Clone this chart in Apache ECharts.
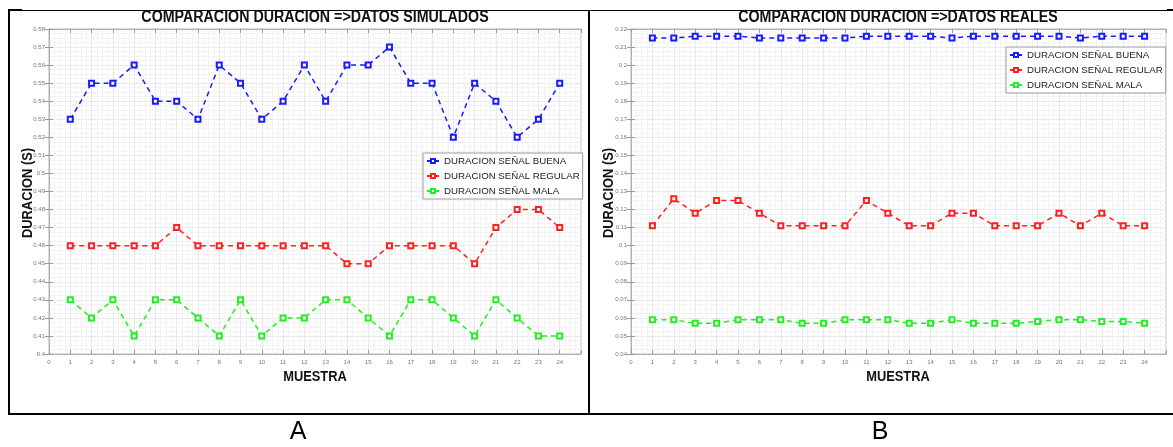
<!DOCTYPE html>
<html>
<head>
<meta charset="utf-8">
<script src="https://cdn.jsdelivr.net/npm/echarts@6/dist/echarts.min.js"></script>
<style>
html,body{margin:0;padding:0;background:#fff;}
#c{width:1173px;height:447px;}
</style>
</head>
<body>
<div id="c"></div>
<script>
// ---- data ----
const muestras = [1,2,3,4,5,6,7,8,9,10,11,12,13,14,15,16,17,18,19,20,21,22,23,24];
const seriesNames = ['DURACION SEÑAL BUENA','DURACION SEÑAL REGULAR','DURACION SEÑAL MALA'];
const titleA = 'COMPARACION DURACION =>DATOS SIMULADOS';
const titleB = 'COMPARACION DURACION =>DATOS REALES';
const yNombre = 'DURACION (S)';
const xNombre = 'MUESTRA';
const panelLabels = ['A','B'];
// Simulated
const simBuena   = [0.53,0.55,0.55,0.56,0.54,0.54,0.53,0.56,0.55,0.53,0.54,0.56,0.54,0.56,0.56,0.57,0.55,0.55,0.52,0.55,0.54,0.52,0.53,0.55];
const simRegular = [0.46,0.46,0.46,0.46,0.46,0.47,0.46,0.46,0.46,0.46,0.46,0.46,0.46,0.45,0.45,0.46,0.46,0.46,0.46,0.45,0.47,0.48,0.48,0.47];
const simMala    = [0.43,0.42,0.43,0.41,0.43,0.43,0.42,0.41,0.43,0.41,0.42,0.42,0.43,0.43,0.42,0.41,0.43,0.43,0.42,0.41,0.43,0.42,0.41,0.41];
// Real
const realBuena   = [0.215,0.215,0.216,0.216,0.216,0.215,0.215,0.215,0.215,0.215,0.216,0.216,0.216,0.216,0.215,0.216,0.216,0.216,0.216,0.216,0.215,0.216,0.216,0.216];
const realRegular = [0.111,0.126,0.118,0.125,0.125,0.118,0.111,0.111,0.111,0.111,0.125,0.118,0.111,0.111,0.118,0.118,0.111,0.111,0.111,0.118,0.111,0.118,0.111,0.111];
const realMala    = [0.059,0.059,0.057,0.057,0.059,0.059,0.059,0.057,0.057,0.059,0.059,0.059,0.057,0.057,0.059,0.057,0.057,0.057,0.058,0.059,0.059,0.058,0.058,0.057];
// axis ranges
const xMin = 0, xMax = 25, xStep = 1;
const yA = {min:0.40, max:0.58, step:0.01};
const yB = {min:0.04, max:0.22, step:0.01};

const colors = ['#1a1aff','#ff2020','#22ee22'];
const ARIAL = '"Liberation Sans",Arial,sans-serif';

const chart = echarts.init(document.getElementById('c'), null, {renderer:'canvas'});

const grids = [
  {left:49, top:29, width:532, height:325, show:true, borderColor:'#b5b5b5', borderWidth:1, backgroundColor:'#fff'},
  {left:631, top:29, width:535, height:325, show:true, borderColor:'#b5b5b5', borderWidth:1, backgroundColor:'#fff'}
];

function xAx(gi, top){
  return {
    type:'value', gridIndex:gi, min:xMin, max:xMax, interval:xStep,
    position: top ? 'top' : 'bottom',
    axisLine:{show:true, lineStyle:{color:'#b0b0b0', width:1}},
    axisTick:{show:true, inside:true, length:4, lineStyle:{color:'#9a9a9a'}},
    axisLabel:{show:!top, fontSize:6, color:'#777', fontFamily:ARIAL, margin:5,
      formatter:v => (v >= xMax ? '' : String(v))},
    splitLine:{show:!top, lineStyle:{color:'#e8e8e8', width:1}},
    minorTick:{show:false, splitNumber:4},
    minorSplitLine:{show:!top, lineStyle:{color:'#f3f3f3', width:1}}
  };
}
function yAx(gi, r, right){
  return {
    type:'value', gridIndex:gi, min:r.min, max:r.max, interval:r.step,
    position: right ? 'right' : 'left',
    axisLine:{show:true, lineStyle:{color:'#b0b0b0', width:1}},
    axisTick:{show:true, inside:true, length:4, lineStyle:{color:'#9a9a9a'}},
    axisLabel:{show:!right, fontSize:6, color:'#777', fontFamily:ARIAL, margin:4,
      formatter:v => String(+v.toFixed(3))},
    splitLine:{show:!right, lineStyle:{color:'#e8e8e8', width:1}},
    minorTick:{show:false, splitNumber:4},
    minorSplitLine:{show:!right, lineStyle:{color:'#f3f3f3', width:1}}
  };
}

function mkSeries(name, vals, ci, axisIdx){
  return {
    type:'line', name:name, xAxisIndex:axisIdx, yAxisIndex:axisIdx,
    data: muestras.map((m,i)=>[m, vals[i]]),
    symbol:'emptyRect', symbolSize:5, showSymbol:true,
    lineStyle:{color:colors[ci], width:1.5, type:[5,4]},
    itemStyle:{color:colors[ci], borderColor:colors[ci], borderWidth:1.5},
    emphasis:{disabled:true}, animation:false, z:3
  };
}

const legendCommon = {
  orient:'vertical', itemWidth:12, itemHeight:5, itemGap:3,
  padding:[2,3,2,3], borderColor:'#999', borderWidth:1, backgroundColor:'#fff',
  textStyle:{fontFamily:ARIAL, fontSize:9.7, color:'#222', lineHeight:12},
  data:seriesNames, selectedMode:false
};

function txt(s, x, y, font, rot, sx){
  return {type:'text', x:x, y:y, rotation:rot||0, scaleX:sx||1, silent:true, z:10,
    style:{text:s, font:font, fill:'#111', align:'center', verticalAlign:'middle'}};
}
const TFONT = 'bold 16px "Liberation Sans",Arial,sans-serif';
const NFONT = 'bold 14px "Liberation Sans",Arial,sans-serif';

const option = {
  animation:false,
  backgroundColor:'#fff',
  grid:grids,
  xAxis:[xAx(0,false), xAx(0,true), xAx(1,false), xAx(1,true)],
  yAxis:[yAx(0,yA,false), yAx(0,yA,true), yAx(1,yB,false), yAx(1,yB,true)],
  legend:[
    Object.assign({}, legendCommon, {left:423, top:153}),
    Object.assign({}, legendCommon, {left:1006, top:47})
  ],
  series:[
    mkSeries(seriesNames[0], simBuena, 0, 0),
    mkSeries(seriesNames[1], simRegular, 1, 0),
    mkSeries(seriesNames[2], simMala, 2, 0),
    mkSeries(seriesNames[0], realBuena, 0, 2),
    mkSeries(seriesNames[1], realRegular, 1, 2),
    mkSeries(seriesNames[2], realMala, 2, 2)
  ],
  graphic:[
    {type:'line', shape:{x1:8, y1:10.5, x2:1173, y2:10.5}, style:{stroke:'#000', lineWidth:1}, silent:true},
    {type:'line', shape:{x1:8, y1:10, x2:22, y2:10}, style:{stroke:'#000', lineWidth:2}, silent:true},
    {type:'line', shape:{x1:1167, y1:10, x2:1173, y2:10}, style:{stroke:'#000', lineWidth:2}, silent:true},
    {type:'line', shape:{x1:9, y1:10, x2:9, y2:415}, style:{stroke:'#000', lineWidth:2}, silent:true},
    {type:'line', shape:{x1:589, y1:10, x2:589, y2:415}, style:{stroke:'#000', lineWidth:2}, silent:true},
    {type:'line', shape:{x1:8, y1:414, x2:1173, y2:414}, style:{stroke:'#000', lineWidth:2}, silent:true},
    txt(titleA, 315, 18, TFONT, 0, 0.89),
    txt(titleB, 898, 18, TFONT, 0, 0.89),
    txt(yNombre, 28, 193, NFONT, Math.PI/2, 0.92),
    txt(yNombre, 609, 193, NFONT, Math.PI/2, 0.92),
    txt(xNombre, 315, 377, NFONT, 0, 0.92),
    txt(xNombre, 898, 377, NFONT, 0, 0.92),
    {type:'text', x:298, y:432, silent:true, style:{text:panelLabels[0], font:'25px "Liberation Sans",Arial,sans-serif', fill:'#000', align:'center', verticalAlign:'middle'}},
    {type:'text', x:880, y:432, silent:true, style:{text:panelLabels[1], font:'25px "Liberation Sans",Arial,sans-serif', fill:'#000', align:'center', verticalAlign:'middle'}}
  ]
};
chart.setOption(option);
</script>
</body>
</html>
